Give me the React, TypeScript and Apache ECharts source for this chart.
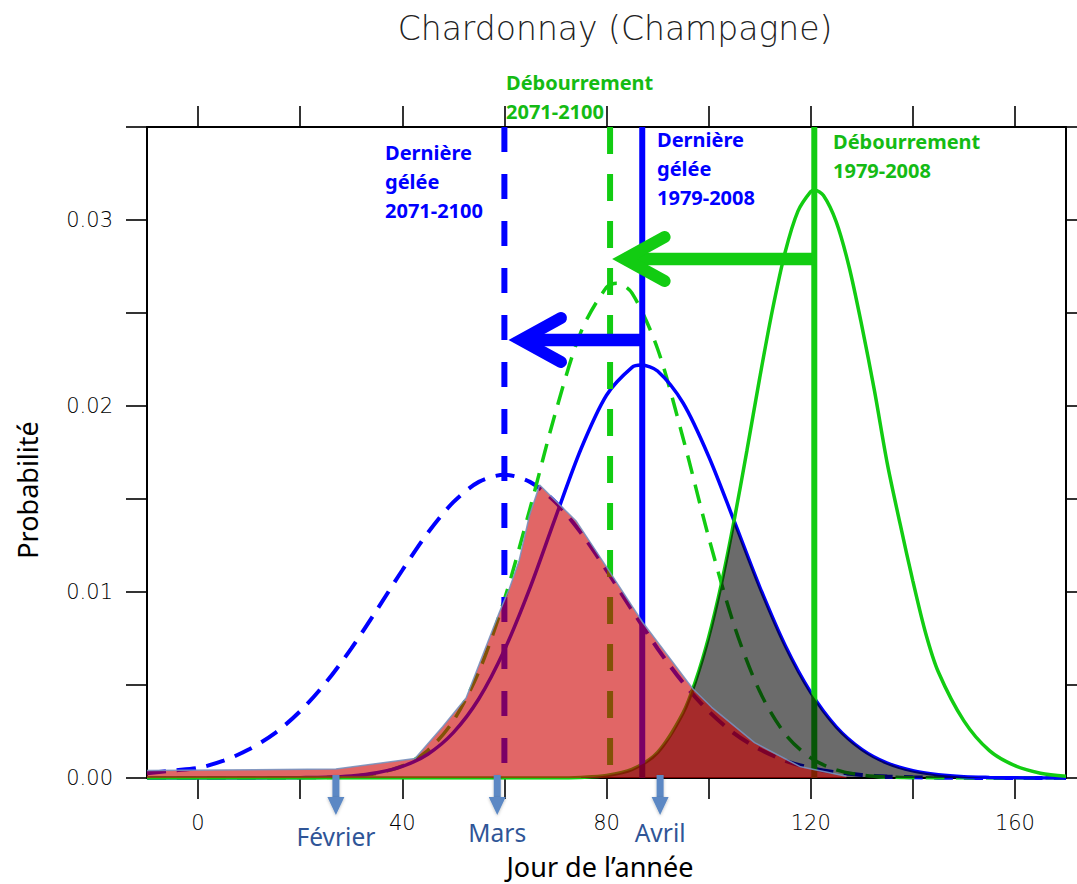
import React, { useEffect, useRef } from "react";
import * as echarts from "echarts";

// ---------- data ----------
// Dernière gelée 1979-2008 (blue solid)
const frost1979X = [-10, -5, 0, 5, 10, 15, 20, 25, 30, 35, 40, 45, 50, 55, 60, 65, 70, 75, 80, 85, 86.8, 90, 95, 100, 105, 110, 115, 120, 125, 130, 135, 140, 145, 150, 155, 160, 165, 170];
const frost1979 = [0, 0, 0, 0, 0, 0.00001, 0.00002, 0.00004, 0.00011, 0.00028, 0.00062, 0.00128, 0.00244, 0.00426, 0.00688, 0.01021, 0.014, 0.01769, 0.02058, 0.02208, 0.0222, 0.02188, 0.02016, 0.0173, 0.01382, 0.01028, 0.00712, 0.0046, 0.00275, 0.00154, 0.0008, 0.00039, 0.00018, 0.00007, 0.00003, 0.00001, 0, 0];
// Dernière gelée 2071-2100 (blue dashed)
const frost2071X = [-10, -5, 0, 5, 10, 15, 20, 25, 30, 35, 40, 45, 50, 55, 60, 65, 70, 75, 80, 85, 90, 95, 100, 105, 110, 115, 120, 125, 130, 135, 140, 145, 150, 155, 160, 165, 170];
const frost2071 = [0.00025, 0.0004, 0.00054, 0.00093, 0.00154, 0.0024, 0.00359, 0.00512, 0.00696, 0.00903, 0.01117, 0.01318, 0.01483, 0.01592, 0.0163, 0.01592, 0.01483, 0.01318, 0.01117, 0.00903, 0.00696, 0.00512, 0.00359, 0.0024, 0.00154, 0.00093, 0.00054, 0.0003, 0.00016, 0.00008, 0.00004, 0.00002, 0.00001, 0, 0, 0, 0];
// Débourrement 1979-2008 (green solid)
const bud1979X = [-10, -5, 0, 5, 10, 15, 20, 25, 30, 35, 40, 45, 50, 55, 60, 65, 70, 75, 80, 85, 90, 95, 97.5, 100, 102.5, 105, 107.5, 110, 112.5, 115, 117.5, 120, 120.8, 122.5, 125, 127.5, 130, 132.5, 135, 137.5, 140, 142.5, 145, 150, 155, 160, 165, 170];
const bud1979 = [0, 0, 0, 0, 0, 0, 0, 0, 0, 0, 0, 0, 0, 0, 0, 0, 0, 0.00003, 0.00013, 0.00046, 0.00137, 0.0035, 0.00526, 0.00756, 0.01044, 0.01385, 0.0176, 0.0215, 0.02516, 0.02828, 0.03048, 0.03153, 0.0316, 0.03132, 0.0299, 0.0275, 0.02432, 0.0208, 0.0169, 0.01367, 0.0106, 0.0078, 0.0057, 0.00307, 0.00147, 0.00066, 0.00026, 0.0001];
// Débourrement 2071-2100 (green dashed)
const bud2071X = [-10, -5, 0, 5, 10, 15, 20, 25, 30, 35, 40, 45, 50, 55, 60, 65, 70, 75, 80, 82, 85, 90, 95, 100, 105, 110, 115, 120, 125, 130, 135, 140, 145, 150, 155, 160, 165, 170];
const bud2071 = [0, 0, 0, 0, 0, 0, 0.00001, 0.00003, 0.00009, 0.00025, 0.00065, 0.00148, 0.00307, 0.00572, 0.00959, 0.01447, 0.01964, 0.02399, 0.02638, 0.0266, 0.02607, 0.02308, 0.01827, 0.01295, 0.00821, 0.00466, 0.00236, 0.00108, 0.00044, 0.00016, 0.00005, 0.00002, 0, 0, 0, 0, 0, 0];

// grey overlap area (1979-2008)
const overlapX = [75, 77.5, 80, 82.5, 85, 87.5, 90, 92.5, 95, 97.5, 100, 102.5, 105, 107.5, 110, 112.5, 115, 117.5, 120, 122.5, 125, 127.5, 130, 132.5, 135, 137.5, 140, 145, 150, 155];
const overlapY = [0.00003, 0.00006, 0.00013, 0.00025, 0.00046, 0.00081, 0.00137, 0.00224, 0.0035, 0.00526, 0.00756, 0.01044, 0.0138, 0.01203, 0.01028, 0.00864, 0.00712, 0.00577, 0.0046, 0.00359, 0.00275, 0.00208, 0.00154, 0.00112, 0.0008, 0.00056, 0.00039, 0.00018, 0.00007, 0];

// red overlap area (2071-2100)
const riskX = [-10, 27, 42.5, 47.9, 52.5, 59, 61, 62.9, 64.9, 66.9, 74.1, 80.6, 87, 96.9, 100.6, 109, 118, 127];
const riskY = [0.0004, 0.00048, 0.00105, 0.00276, 0.0043, 0.0089, 0.0102, 0.0117, 0.0141, 0.01575, 0.0138, 0.0111, 0.0084, 0.0048, 0.0038, 0.0019, 0.0006, 0.0001];

// vertical markers (mean days)
const markerDays = [60, 80.7, 87, 120.7];

// shift arrows
const arrowFrom = [120.7, 87];
const arrowTo = [81, 60.7];
const arrowLevel = [0.0279, 0.02355];

// months
const monthDays = [27, 58.6, 90.5];
const monthNames = ["Février", "Mars", "Avril"];

// axes
const xTickValues = [0, 20, 40, 60, 80, 100, 120, 140, 160];
const xLabelValues = [0, 40, 80, 120, 160];
const yTickValues = [0, 0.005, 0.01, 0.015, 0.02, 0.025, 0.03, 0.035];
const yLabelValues = [0, 0.01, 0.02, 0.03];

// ---------- styles ----------
const BLUE = "#0000ff";
const GREEN = "#12cc12";
const GREEN_TXT = "#14bb14";
const markerColors = [BLUE, GREEN, BLUE, GREEN];
const markerDash: any[] = [[25, 22], [27, 20], "solid", "solid"];
const arrowColors = [GREEN, BLUE];
const MONTH_ARROW = "#5b88c4";
const MONTH_TXT = "#2f5597";
const GEO = "'DejaVu Sans', sans-serif";
const SANS = "'Noto Sans', 'Open Sans', sans-serif";

function curve(xs: number[], vals: number[], color: string, dashed: boolean, width: number) {
  return {
    type: "line",
    data: xs.map((d, i) => [d, vals[i]]),
    smooth: 0.3,
    symbol: "none",
    silent: true,
    z: 2,
    lineStyle: { color, width, type: dashed ? [19, 11] : "solid" },
  };
}

function buildOption(): any {
  const axisLine = { show: true, onZero: false, lineStyle: { color: "#000", width: 2 } };
  const tickStyle = { color: "#000", width: 1.6 };
  const labelFont = { fontFamily: GEO, fontSize: 21, color: "#000", fontWeight: 300 };

  const series: any[] = [
    curve(frost2071X, frost2071, BLUE, true, 4),
    curve(bud2071X, bud2071, GREEN, true, 3.5),
    curve(frost1979X, frost1979, BLUE, false, 3.5),
    curve(bud1979X, bud1979, GREEN, false, 3.5),
  ];

  markerDays.forEach((d, i) => {
    series.push({
      type: "line",
      data: [[d, 0.035], [d, 0]],
      symbol: "none",
      silent: true,
      z: 3,
      lineStyle: { color: markerColors[i], width: 6, type: markerDash[i] },
    });
  });

  series.push({
    type: "custom",
    z: 4,
    silent: true,
    data: arrowFrom.map((f, i) => [arrowTo[i], f, arrowLevel[i]]),
    renderItem: (params: any, api: any) => {
      const tip = api.coord([api.value(0), api.value(2)]);
      const base = api.coord([api.value(1), api.value(2)]);
      const color = arrowColors[params.dataIndex];
      const vx = tip[0] + 13;
      const y = tip[1];
      return {
        type: "group",
        children: [
          { type: "line", shape: { x1: vx, y1: y, x2: base[0], y2: y }, style: { stroke: color, lineWidth: 12.5, lineCap: "butt" } },
          {
            type: "polyline",
            shape: { points: [[vx + 40, y - 22], [vx, y], [vx + 40, y + 22]] },
            style: { stroke: color, fill: "none", lineWidth: 12, lineCap: "round", lineJoin: "miter" },
          },
        ],
      };
    },
  });

  series.push({
    type: "line",
    data: overlapX.map((x, i) => [x, overlapY[i]]),
    symbol: "none",
    silent: true,
    z: 5,
    lineStyle: { width: 0, opacity: 0 },
    areaStyle: { color: "rgba(0,0,0,0.58)", opacity: 1 },
  });

  series.push({
    type: "line",
    data: riskX.map((x, i) => [x, riskY[i]]),
    symbol: "none",
    silent: true,
    z: 6,
    lineStyle: { color: "rgba(120,145,190,0.9)", width: 1.5 },
    areaStyle: { color: "rgba(205,0,0,0.6)", opacity: 1 },
  });

  series.push({
    type: "custom",
    z: 7,
    silent: true,
    clip: false,
    data: monthDays.map((d) => [d, 0]),
    renderItem: (params: any, api: any) => {
      const p = api.coord([api.value(0), 0]);
      const x = p[0];
      const y0 = p[1];
      const name = monthNames[params.dataIndex];
      const ty = y0 + (params.dataIndex === 0 ? 58 : 54);
      return {
        type: "group",
        children: [
          { type: "rect", shape: { x: x - 3.5, y: y0 - 3, width: 7, height: 23 }, style: { fill: MONTH_ARROW, shadowBlur: 3, shadowColor: "rgba(0,0,0,0.25)", shadowOffsetY: 1 } },
          { type: "polygon", shape: { points: [[x - 8.5, y0 + 19], [x + 8.5, y0 + 19], [x, y0 + 37]] }, style: { fill: MONTH_ARROW, shadowBlur: 3, shadowColor: "rgba(0,0,0,0.25)", shadowOffsetY: 1 } },
          {
            type: "text",
            x,
            y: ty,
            style: { text: name, fill: MONTH_TXT, fontFamily: SANS, fontSize: 24.5, align: "center", verticalAlign: "middle", textAlign: "center", textVerticalAlign: "middle" },
          },
        ],
      };
    },
  });

  const txt = (text: string, x: number, y: number, color: string) => ({
    type: "text",
    x,
    y,
    z: 100,
    silent: true,
    style: {
      text,
      fill: color,
      fontFamily: SANS,
      fontSize: 20,
      fontWeight: "bold",
      lineHeight: 29,
      align: "left",
      verticalAlign: "top",
      textAlign: "left",
      textVerticalAlign: "top",
    },
  });

  return {
    animation: false,
    backgroundColor: "#ffffff",
    grid: { left: 147, right: 11, top: 127, bottom: 106, containLabel: false },
    xAxis: [
      {
        type: "value",
        position: "bottom",
        min: -10,
        max: 170,
        axisLine,
        axisTick: { show: true, inside: false, length: 21, lineStyle: tickStyle, customValues: xTickValues },
        axisLabel: { show: true, margin: 34, customValues: xLabelValues, ...labelFont, formatter: (v: number) => String(v) },
        splitLine: { show: false },
      },
      {
        type: "value",
        position: "top",
        min: -10,
        max: 170,
        axisLine,
        axisTick: { show: true, inside: false, length: 21, lineStyle: tickStyle, customValues: xTickValues },
        axisLabel: { show: false },
        splitLine: { show: false },
      },
    ],
    yAxis: [
      {
        type: "value",
        position: "left",
        min: 0,
        max: 0.035,
        axisLine,
        axisTick: { show: true, inside: false, length: 21, lineStyle: tickStyle, customValues: yTickValues },
        axisLabel: { show: true, margin: 34, customValues: yLabelValues, ...labelFont, formatter: (v: number) => v.toFixed(2) },
        splitLine: { show: false },
      },
      {
        type: "value",
        position: "right",
        min: 0,
        max: 0.035,
        axisLine,
        axisTick: { show: true, inside: false, length: 21, lineStyle: tickStyle, customValues: yTickValues },
        axisLabel: { show: false },
        splitLine: { show: false },
      },
    ],
    series,
    graphic: [
      {
        type: "text",
        x: 615,
        y: 28,
        silent: true,
        style: { text: "Chardonnay (Champagne)", fill: "#222", fontFamily: GEO, fontSize: 33, fontWeight: 200, align: "center", verticalAlign: "middle", textAlign: "center", textVerticalAlign: "middle" },
      },
      {
        type: "text",
        x: 600,
        y: 866,
        silent: true,
        style: { text: "Jour de l\u2019année", fill: "#000", fontFamily: SANS, fontSize: 27, align: "center", verticalAlign: "middle", textAlign: "center", textVerticalAlign: "middle" },
      },
      {
        type: "text",
        x: 27,
        y: 490,
        rotation: Math.PI / 2,
        silent: true,
        style: { text: "Probabilité", fill: "#000", fontFamily: SANS, fontSize: 27, align: "center", verticalAlign: "middle", textAlign: "center", textVerticalAlign: "middle" },
      },
      txt("Débourrement\n2071-2100", 506, 67.5, GREEN_TXT),
      txt("Dernière\ngélée\n2071-2100", 385, 137.5, BLUE),
      txt("Dernière\ngélée\n1979-2008", 657, 125, BLUE),
      txt("Débourrement\n1979-2008", 833, 126.5, GREEN_TXT),
    ],
  };
}

export default function App() {
  const ref = useRef<HTMLDivElement>(null);
  useEffect(() => {
    if (!ref.current) return;
    const chart = echarts.init(ref.current, null, { renderer: "svg" });
    chart.setOption(buildOption());
    return () => chart.dispose();
  }, []);
  return (
    <div
      ref={ref}
      style={{ position: "fixed", left: 0, top: 0, width: 1077, height: 884, background: "#ffffff" }}
    />
  );
}
